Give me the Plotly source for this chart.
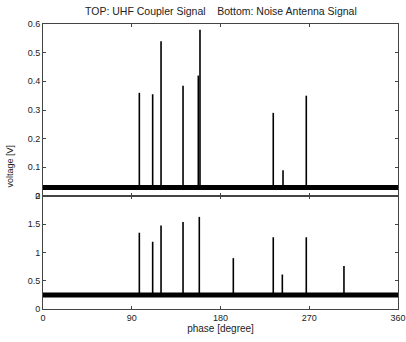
import plotly.graph_objects as go
from plotly.subplots import make_subplots

# Spike data (phase in degrees, peak voltage)
top_phase = [97.7, 111.2, 119.7, 142.0, 157.5, 159.2, 233.5, 243.4, 267.0]
top_peak = [0.36, 0.355, 0.54, 0.385, 0.42, 0.58, 0.29, 0.09, 0.35]
top_base = 0.03

bot_phase = [97.7, 111.2, 119.7, 142.0, 158.5, 193.0, 233.5, 242.7, 267.0, 305.2]
bot_peak = [1.35, 1.19, 1.48, 1.54, 1.63, 0.90, 1.27, 0.61, 1.27, 0.76]
bot_base = 0.25

x_ticks = [0, 90, 180, 270, 360]
top_ticks = [0, 0.1, 0.2, 0.3, 0.4, 0.5, 0.6]
bot_ticks = [0, 0.5, 1, 1.5, 2]

W, H = 406, 342
ml, mr, mt, mb = 43, 8, 24, 33
split = (309 - 196) / (H - mt - mb)

fig = make_subplots(rows=2, cols=1, shared_xaxes=False, vertical_spacing=0)


def spikes(phases, peaks, base):
    xs, ys = [], []
    for p, v in zip(phases, peaks):
        xs += [p, p, None]
        ys += [base, v, None]
    return xs, ys


# Top panel
fig.add_trace(go.Scatter(x=[0, 360], y=[top_base, top_base], mode="lines",
                         line=dict(color="black", width=5), hoverinfo="skip"), row=1, col=1)
sx, sy = spikes(top_phase, top_peak, top_base)
fig.add_trace(go.Scatter(x=sx, y=sy, mode="lines",
                         line=dict(color="black", width=1.6), hoverinfo="skip"), row=1, col=1)

# Bottom panel
fig.add_trace(go.Scatter(x=[0, 360], y=[bot_base, bot_base], mode="lines",
                         line=dict(color="black", width=5), hoverinfo="skip"), row=2, col=1)
sx, sy = spikes(bot_phase, bot_peak, bot_base)
fig.add_trace(go.Scatter(x=sx, y=sy, mode="lines",
                         line=dict(color="black", width=1.6), hoverinfo="skip"), row=2, col=1)

axis_common = dict(showline=True, linecolor="#444", linewidth=1, mirror="ticks",
                   ticks="inside", ticklen=3, tickcolor="#444", showgrid=False,
                   zeroline=False, automargin=False,
                   tickfont=dict(size=9, color="#222", family="Liberation Sans, Arial"))

fig.update_xaxes(range=[0, 360], tickvals=x_ticks, **axis_common)
fig.update_xaxes(showticklabels=False, row=1, col=1)
fig.update_xaxes(row=2, col=1, title=dict(text="phase [degree]", standoff=2,
                                          font=dict(size=10, color="#222",
                                                    family="Liberation Sans, Arial")))
fig.update_yaxes(**axis_common)
fig.update_yaxes(range=[0, 0.6], tickvals=top_ticks, ticktext=["0", "0.1", "0.2", "0.3", "0.4", "0.5", "0.6"],
                 domain=[split, 1], row=1, col=1)
fig.update_yaxes(range=[0, 2], tickvals=bot_ticks, ticktext=["0", "0.5", "1", "1.5", "2"],
                 domain=[0, split], row=2, col=1)

fig.update_layout(
    width=W, height=H,
    margin=dict(l=ml, r=mr, t=mt, b=mb, autoexpand=False),
    paper_bgcolor="white", plot_bgcolor="white",
    showlegend=False,
    font=dict(family="Liberation Sans, Arial", color="#222"),
    annotations=[
        dict(text="TOP: UHF Coupler Signal    Bottom: Noise Antenna Signal",
             xref="paper", yref="paper", x=0.5, y=1, yshift=5, yanchor="bottom",
             showarrow=False, font=dict(size=10.5, color="#222")),
        dict(text="voltage [V]", xref="paper", yref="paper", x=0, xshift=-34, y=0.5,
             textangle=-90, showarrow=False, xanchor="center", yanchor="middle",
             font=dict(size=9, color="#222")),
    ],
)

fig.write_html("out.html")
